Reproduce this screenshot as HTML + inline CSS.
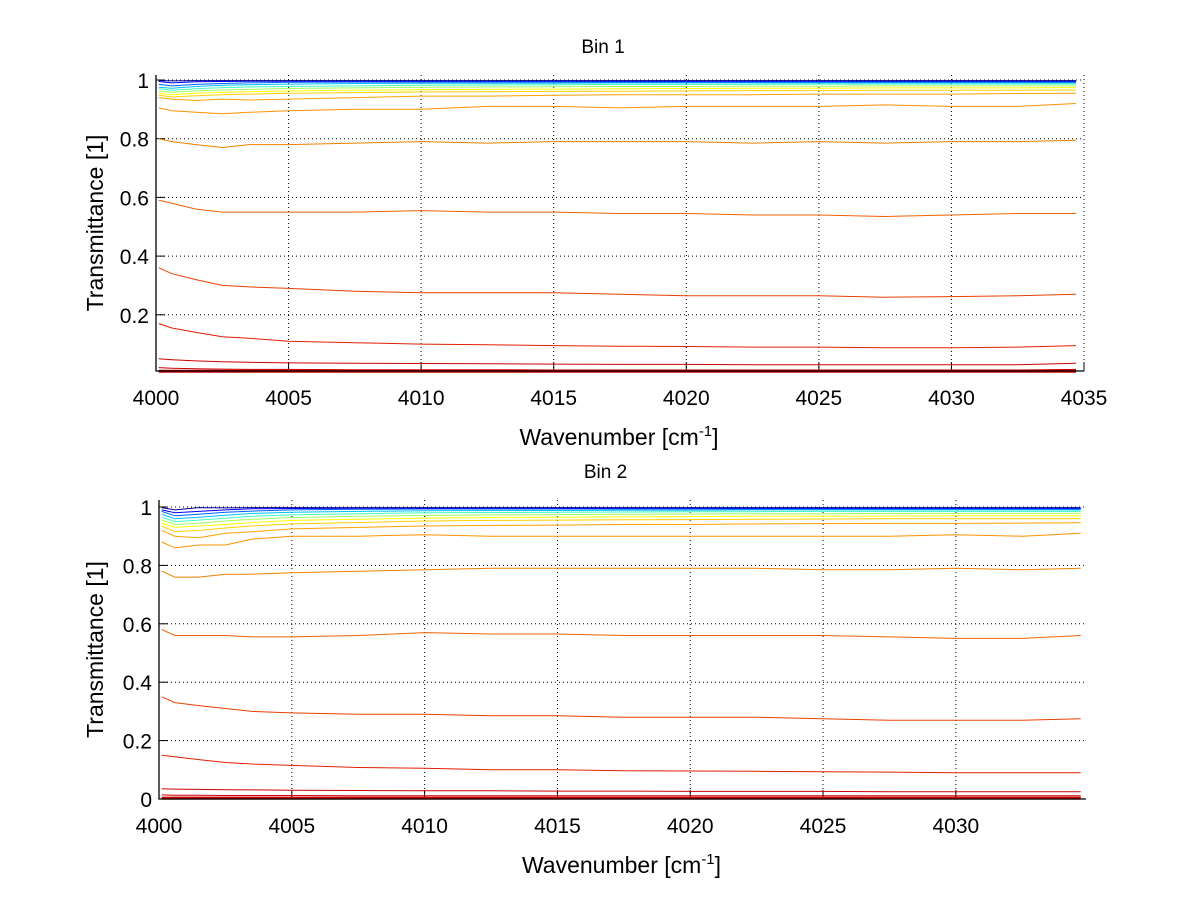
<!DOCTYPE html>
<html><head><meta charset="utf-8">
<style>
html,body{margin:0;padding:0;background:#fff;}
svg{display:block;font-family:"Liberation Sans",Arial,sans-serif;}
</style></head>
<body>
<svg id="fig" width="1200" height="901" viewBox="0 0 1200 901" xmlns="http://www.w3.org/2000/svg"></svg>
<script>
// ---- data ----
const xSamples = [4000.1,4000.6,4001.5,4002.5,4003.5,4005,4007.5,4010,4012.5,4015,4017.5,4020,4022.5,4025,4027.5,4030,4032.5,4034.7];
const seriesColors = ["#00008f","#0000ff","#0060ff","#00c0ff","#40ffbf","#a0ff60","#ffff00","#ffd000","#ffa000","#ff9000","#f08000","#f06000","#e84000","#e02000","#d00000","#c80000","#cc0000"];
const bin1Series = [
 [0.998,0.997,0.998,0.998,0.998,0.998,0.998,0.998,0.998,0.998,0.998,0.998,0.998,0.998,0.998,0.998,0.998,0.998],
 [0.995,0.99,0.994,0.995,0.996,0.996,0.996,0.996,0.996,0.996,0.996,0.996,0.996,0.996,0.996,0.996,0.996,0.996],
 [0.985,0.98,0.985,0.988,0.99,0.992,0.993,0.993,0.993,0.993,0.993,0.993,0.993,0.993,0.993,0.993,0.993,0.993],
 [0.975,0.972,0.978,0.982,0.984,0.986,0.988,0.989,0.989,0.989,0.99,0.99,0.99,0.99,0.99,0.99,0.99,0.99],
 [0.97,0.965,0.97,0.974,0.976,0.978,0.98,0.982,0.983,0.984,0.985,0.985,0.985,0.986,0.986,0.986,0.986,0.986],
 [0.962,0.958,0.963,0.966,0.968,0.971,0.973,0.975,0.976,0.977,0.978,0.978,0.979,0.979,0.98,0.98,0.98,0.98],
 [0.955,0.95,0.955,0.958,0.96,0.963,0.965,0.967,0.968,0.969,0.97,0.971,0.972,0.972,0.973,0.973,0.973,0.974],
 [0.948,0.942,0.946,0.95,0.952,0.955,0.957,0.959,0.96,0.961,0.962,0.963,0.964,0.964,0.965,0.965,0.965,0.966],
 [0.94,0.935,0.93,0.935,0.932,0.935,0.94,0.945,0.945,0.948,0.95,0.95,0.95,0.952,0.952,0.952,0.954,0.955],
 [0.905,0.895,0.89,0.885,0.89,0.895,0.9,0.9,0.91,0.91,0.905,0.91,0.91,0.91,0.915,0.91,0.91,0.92],
 [0.8,0.79,0.78,0.77,0.78,0.78,0.785,0.79,0.785,0.79,0.79,0.79,0.785,0.79,0.785,0.79,0.79,0.795],
 [0.59,0.58,0.56,0.55,0.55,0.55,0.55,0.555,0.55,0.55,0.545,0.545,0.54,0.54,0.535,0.54,0.545,0.545],
 [0.36,0.34,0.32,0.3,0.295,0.29,0.28,0.275,0.275,0.275,0.27,0.265,0.265,0.265,0.26,0.262,0.265,0.27],
 [0.17,0.155,0.14,0.125,0.12,0.11,0.105,0.1,0.098,0.095,0.093,0.092,0.09,0.09,0.088,0.088,0.09,0.095],
 [0.05,0.047,0.043,0.04,0.038,0.036,0.035,0.034,0.033,0.032,0.031,0.031,0.03,0.03,0.03,0.03,0.03,0.035],
 [0.02,0.018,0.016,0.015,0.014,0.014,0.013,0.013,0.013,0.012,0.012,0.012,0.012,0.012,0.012,0.012,0.012,0.014],
 [0.008,0.008,0.008,0.008,0.008,0.008,0.008,0.008,0.008,0.008,0.008,0.008,0.008,0.008,0.008,0.008,0.008,0.008]
];
const bin2Series = [
 [0.998,0.99,0.998,0.997,0.998,0.998,0.998,0.998,0.998,0.998,0.998,0.998,0.998,0.998,0.998,0.998,0.998,0.998],
 [0.99,0.98,0.985,0.99,0.994,0.995,0.996,0.996,0.996,0.996,0.996,0.996,0.996,0.996,0.996,0.996,0.996,0.996],
 [0.985,0.97,0.975,0.982,0.986,0.99,0.992,0.993,0.993,0.993,0.993,0.993,0.993,0.993,0.993,0.993,0.993,0.993],
 [0.975,0.96,0.965,0.972,0.978,0.982,0.985,0.987,0.988,0.988,0.989,0.989,0.99,0.99,0.99,0.99,0.99,0.99],
 [0.965,0.95,0.955,0.962,0.968,0.973,0.977,0.98,0.981,0.982,0.983,0.984,0.984,0.985,0.985,0.985,0.985,0.985],
 [0.955,0.94,0.945,0.952,0.958,0.964,0.968,0.971,0.973,0.974,0.975,0.976,0.977,0.977,0.978,0.978,0.978,0.978],
 [0.945,0.93,0.935,0.94,0.947,0.954,0.958,0.962,0.964,0.965,0.966,0.967,0.968,0.969,0.969,0.97,0.97,0.97],
 [0.935,0.915,0.92,0.928,0.935,0.942,0.947,0.952,0.954,0.955,0.956,0.957,0.958,0.959,0.96,0.96,0.96,0.96],
 [0.92,0.9,0.895,0.91,0.915,0.925,0.93,0.935,0.937,0.938,0.94,0.94,0.942,0.943,0.944,0.944,0.945,0.946],
 [0.88,0.86,0.87,0.87,0.89,0.9,0.9,0.905,0.9,0.9,0.9,0.9,0.9,0.9,0.9,0.905,0.9,0.91],
 [0.78,0.76,0.76,0.77,0.77,0.775,0.78,0.785,0.79,0.79,0.79,0.79,0.79,0.785,0.785,0.79,0.785,0.79],
 [0.58,0.56,0.56,0.56,0.555,0.555,0.56,0.57,0.565,0.565,0.56,0.56,0.56,0.56,0.555,0.55,0.55,0.56],
 [0.35,0.33,0.32,0.31,0.3,0.295,0.29,0.29,0.285,0.285,0.28,0.28,0.28,0.275,0.27,0.27,0.27,0.275],
 [0.15,0.145,0.135,0.125,0.12,0.115,0.108,0.105,0.1,0.1,0.097,0.096,0.095,0.093,0.092,0.09,0.09,0.09],
 [0.035,0.034,0.033,0.032,0.031,0.03,0.029,0.028,0.028,0.027,0.027,0.026,0.026,0.026,0.025,0.025,0.025,0.025],
 [0.014,0.013,0.013,0.012,0.012,0.012,0.011,0.011,0.011,0.011,0.011,0.011,0.011,0.011,0.011,0.011,0.011,0.011],
 [0.003,0.003,0.003,0.003,0.003,0.003,0.003,0.003,0.003,0.003,0.003,0.003,0.003,0.003,0.003,0.003,0.003,0.003]
];
const bin1XTicks = [4000,4005,4010,4015,4020,4025,4030,4035];
const bin2XTicks = [4000,4005,4010,4015,4020,4025,4030];
const bin1YTicks = [0.2,0.4,0.6,0.8,1];
const bin2YTicks = [0,0.2,0.4,0.6,0.8,1];
const bin1YLabels = ["0.2","0.4","0.6","0.8","1"];
const bin2YLabels = ["0","0.2","0.4","0.6","0.8","1"];

const NS="http://www.w3.org/2000/svg";
const svg=document.getElementById('fig');
function mk(tag,attrs,parent){const e=document.createElementNS(NS,tag);for(const k in attrs)e.setAttribute(k,attrs[k]);(parent||svg).appendChild(e);return e;}

function drawPanel(cfg){
  const g=mk('g',{});
  
  
  const sx=v=>cfg.left+(v-cfg.xmin)/(cfg.xmax-cfg.xmin)*(cfg.right-cfg.left);
  const sy=v=>cfg.bottom-(v-cfg.ymin)/(cfg.ymax-cfg.ymin)*(cfg.bottom-cfg.top);
  cfg.xticks.forEach(t=>{const x=sx(t);
    const l=mk('line',{x1:x,x2:x,y1:cfg.top,y2:cfg.bottom,stroke:'#000','stroke-width':1,'stroke-dasharray':'1,3'},g);
    
    const tk=mk('line',{x1:x,x2:x,y1:cfg.bottom,y2:cfg.bottom-9,stroke:'#000'},g);
    
    const tx=mk('text',{x:x,y:cfg.bottom+34,'text-anchor':'middle','font-size':21,fill:'#000'},g);
    tx.textContent=String(t);
    
  });
  cfg.yticks.forEach((t,i)=>{const y=sy(t);
    const l=mk('line',{x1:cfg.left,x2:cfg.right,y1:y,y2:y,stroke:'#000','stroke-width':1,'stroke-dasharray':'1,3'},g);
    
    const tk=mk('line',{x1:cfg.left,x2:cfg.left+9,y1:y,y2:y,stroke:'#000'},g);
    
    const tx=mk('text',{x:cfg.left-7,y:y+8,'text-anchor':'end','font-size':21,fill:'#000'},g);
    tx.textContent=cfg.ylabels[i];
    
  });
  for(let s=cfg.series.length-1;s>=0;s--){
    const vals=cfg.series[s];
    const pts=vals.map((v,i)=>sx(xSamples[i]).toFixed(1)+','+sy(v).toFixed(1)).join(' ');
    const p=mk('polyline',{points:pts,fill:'none',stroke:seriesColors[s],'stroke-width':s===cfg.series.length-1?3:1},g);
    
    
  }
  const ax=mk('polyline',{points:`${cfg.left},${cfg.top} ${cfg.left},${cfg.bottom} ${cfg.right},${cfg.bottom}`,fill:'none',stroke:'#000','stroke-width':1.3},g);
  
  const ti=mk('text',{x:(cfg.left+cfg.right)/2-17,y:cfg.top-22,'text-anchor':'middle','font-size':19,fill:'#000'},g);
  ti.textContent=cfg.title;
  const xl=mk('text',{x:(cfg.left+cfg.right)/2-1,y:cfg.bottom+74,'text-anchor':'middle','font-size':23,fill:'#000'},g);
  
  xl.appendChild(document.createTextNode('Wavenumber [cm'));
  const sup=mk('tspan',{dy:-9,'font-size':15},xl);sup.textContent='-1';
  const cl=mk('tspan',{dy:9},xl);cl.textContent=']';
  const yc=(cfg.top+cfg.bottom)/2;
  const yl=mk('text',{x:0,y:0,'text-anchor':'middle','font-size':23,fill:'#000',transform:`translate(103,${yc}) rotate(-90)`},g);
  yl.textContent='Transmittance [1]';
  
}
drawPanel({name:'bin-1-chart',title:'Bin 1',left:156,right:1084,top:75,bottom:371,xmin:4000,xmax:4035,ymin:1-0.2*291/58.7,ymax:1+5/58.7*0.2,xticks:bin1XTicks,yticks:bin1YTicks,ylabels:bin1YLabels,series:bin1Series});
drawPanel({name:'bin-2-chart',title:'Bin 2',left:159,right:1086,top:500,bottom:799,xmin:4000,xmax:4034.9,ymin:0,ymax:1+7/58.4*0.2,xticks:bin2XTicks,yticks:bin2YTicks,ylabels:bin2YLabels,series:bin2Series});
</script>
</body></html>
